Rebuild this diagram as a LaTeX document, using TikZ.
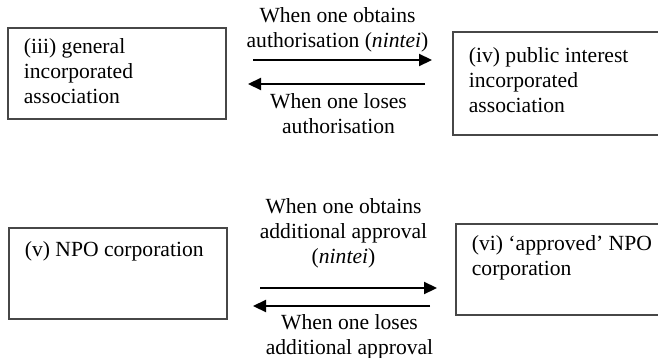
\documentclass[tikz,border=0pt]{standalone}
\usepackage{fontspec}
\setmainfont{Liberation Serif}
\usetikzlibrary{arrows.meta}

\tikzset{
  orgbox/.style={draw=black!72, line width=0.9pt, anchor=north west, align=flush left,
    inner xsep=8pt, inner ysep=0pt, text width=93pt,
    font=\fontsize{10.8}{12.5}\selectfont},
  move/.style={line width=1.1pt, -{Triangle[length=6.5pt,width=6pt]}},
  why/.style={align=center, inner sep=0pt, font=\fontsize{10.8}{12.5}\selectfont}
}

\begin{document}
\begin{tikzpicture}[x=0.5pt,y=-0.5pt]
        \useasboundingbox (0,0) rectangle (658,358);
        \node[orgbox, text height=13pt, text depth=32.5pt] at (7,27) (gen){(iii) general\\incorporated\\association};
        \node[orgbox, text height=15.5pt, text depth=36pt] at (452,31) (pub){(iv) public interest\\incorporated\\association};
        \node[orgbox, text height=14.5pt, text depth=31pt] at (8,227) (npo){(v) NPO corporation};
        \node[orgbox, text height=13.5pt, text depth=32pt] at (455,223) (appr){(vi) ‘approved’ NPO\\corporation};
        \coordinate (gainA) at (253,60);
        \coordinate (gainB) at (432,60);
        \coordinate (lossA) at (425,84);
        \coordinate (lossB) at (248,84);
        \coordinate (addA) at (260,288);
        \coordinate (addB) at (437,288);
        \coordinate (dropA) at (430,306);
        \coordinate (dropB) at (253,306);
        \draw[move] (gainA) -- node[why, above=3.2pt, xshift=-2.5pt] {When one obtains\\authorisation (\textit{nintei})} (gainB);
        \draw[move] (lossA) -- node[why, below=4.2pt, xshift=1pt] {When one loses\\authorisation} (lossB);
        \draw[move] (addA) -- node[why, above=9.2pt, xshift=-2.5pt] {When one obtains\\additional approval\\(\textit{nintei})} (addB);
        \draw[move] (dropA) -- node[why, below=3.7pt, xshift=4pt] {When one loses\\additional approval} (dropB);
      \end{tikzpicture}
\end{document}
